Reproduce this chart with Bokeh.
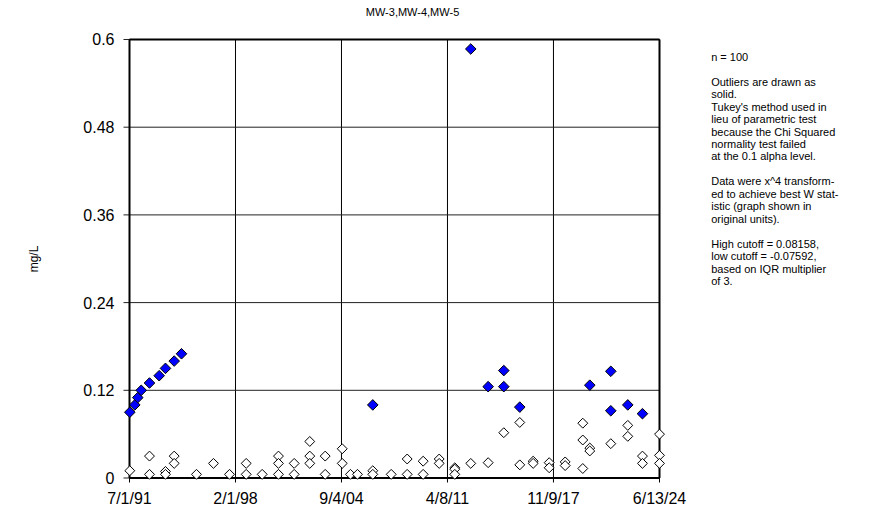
import math
import pandas as pd
from bokeh.plotting import figure
from bokeh.layouts import column, row
from bokeh.models import Range1d, FixedTicker
from bokeh.core.properties import value
from bokeh.embed import file_html
from bokeh.resources import INLINE

# ---------------- data ----------------
title_text = "MW-3,MW-4,MW-5"
y_label = "mg/L"
x_tick_dates = ["1991-07-01", "1998-02-01", "2004-09-04", "2011-04-08", "2017-11-09", "2024-06-13"]
x_tick_labels = ["7/1/91", "2/1/98", "9/4/04", "4/8/11", "11/9/17", "6/13/24"]
y_ticks = [0, 0.12, 0.24, 0.36, 0.48, 0.6]
y_tick_labels = ["0", "0.12", "0.24", "0.36", "0.48", "0.6"]

open_dates = [
    "1991-07-08", "1992-09-27", "1992-09-27", "1993-09-25", "1993-09-25",
    "1994-04-11", "1994-04-11", "1995-08-30", "1996-09-19", "1997-09-18",
    "1998-10-02", "1998-10-02", "1999-09-30", "2000-10-04", "2000-10-04",
    "2000-10-04", "2001-09-26", "2001-09-26", "2002-09-15", "2002-09-15",
    "2002-09-15", "2003-08-31", "2003-08-31", "2004-09-21", "2004-09-21",
    "2005-03-27", "2005-09-02", "2006-08-16", "2006-08-16", "2007-10-08",
    "2008-10-05", "2008-10-05", "2009-10-03", "2009-10-03", "2010-10-02",
    "2010-10-02", "2011-09-21", "2011-09-21", "2011-09-21", "2012-09-18",
    "2013-10-18", "2014-10-08", "2015-10-06", "2015-10-06", "2016-08-05",
    "2016-08-05", "2017-08-04", "2017-08-04", "2018-08-02", "2018-08-02",
    "2019-09-06", "2019-09-06", "2019-09-06", "2020-02-12", "2020-02-12",
    "2021-06-03", "2022-06-24", "2022-06-24", "2023-05-23", "2023-05-23",
    "2024-06-13", "2024-06-13", "2024-06-13",
]
open_values = [
    0.010, 0.030, 0.005, 0.009, 0.005,
    0.030, 0.020, 0.005, 0.020, 0.005,
    0.020, 0.005, 0.005, 0.030, 0.020,
    0.005, 0.020, 0.005, 0.050, 0.030,
    0.020, 0.030, 0.005, 0.040, 0.020,
    0.005, 0.005, 0.010, 0.005, 0.005,
    0.026, 0.005, 0.023, 0.005, 0.026,
    0.020, 0.014, 0.012, 0.005, 0.020,
    0.021, 0.062, 0.076, 0.018, 0.023,
    0.020, 0.021, 0.014, 0.022, 0.017,
    0.075, 0.052, 0.013, 0.041, 0.037,
    0.047, 0.072, 0.057, 0.030, 0.020,
    0.060, 0.031, 0.020,
]

outlier_dates = [
    "1991-07-08", "1991-10-29", "1992-01-05", "1992-03-23", "1992-09-27",
    "1993-05-05", "1993-09-25", "1994-04-11", "1994-09-24", "2006-08-16",
    "2012-09-18", "2013-10-18", "2014-10-08", "2014-10-08", "2015-10-06",
    "2020-02-12", "2021-06-03", "2021-06-03", "2022-06-24", "2023-05-23",
]
outlier_values = [
    0.090, 0.100, 0.110, 0.120, 0.130,
    0.140, 0.150, 0.160, 0.170, 0.100,
    0.587, 0.125, 0.147, 0.125, 0.097,
    0.127, 0.146, 0.092, 0.100, 0.088,
]

note_lines = [
    "n = 100", "",
    "Outliers are drawn as", "solid.",
    "Tukey's method used in", "lieu of parametric test",
    "because the Chi Squared", "normality test failed",
    "at the 0.1 alpha level.", "",
    "Data were x^4 transform-", "ed to achieve best W stat-",
    "istic (graph shown in", "original units).", "",
    "High cutoff = 0.08158,", "low cutoff = -0.07592,",
    "based on IQR multiplier", "of 3.",
]

# ---------------- layout (page pixels) ----------------
FONT = "Liberation Sans"
TOTAL_W, TOTAL_H = 871, 509
TH = 22                       # height of the title strip
PW = 690                      # width of main plot
F_L, F_R, F_T, F_B = 121, 667, 35, 483        # frame edges (page)
X0PX, X1PX = 129.0, 659.0                      # first / last x tick (page)
Y0PX, Y1PX = 478.5, 39.0                       # y=0 / y=0.6 (page)
MAIN_H = TOTAL_H - TH
NOTE_X, NOTE_Y, NOTE_DY = 710.7, 45.0, 13.6


def ms(d):
    return pd.Timestamp(d).value / 1e6


x_ticks = [ms(d) for d in x_tick_dates]
t0, t1 = x_ticks[0], x_ticks[-1]
mspp = (t1 - t0) / (X1PX - X0PX)
ypp = (y_ticks[-1] - y_ticks[0]) / (Y0PX - Y1PX)


def xd(px):
    return t0 + (px - X0PX) * mspp


def yd(py):
    return y_ticks[0] + (Y0PX - py) * ypp


def blank(w, h):
    f = figure(width=w, height=h, x_range=Range1d(0, w), y_range=Range1d(h, 0),
               output_backend="svg", toolbar_location=None,
               x_axis_location=None, y_axis_location=None, min_border=0)
    f.outline_line_color = None
    f.grid.visible = False
    f.background_fill_color = "white"
    f.border_fill_color = "white"
    return f


# ---- title strip ----
pt = blank(TOTAL_W, TH)
pt.text(x=[412], y=[11], text=[title_text], text_align="center", text_baseline="middle",
        text_font=value(FONT), text_font_size="11px", text_color="black")

# ---- main plot ----
p = figure(width=PW, height=MAIN_H, x_axis_type="datetime",
           x_range=Range1d(xd(F_L), xd(F_R)), y_range=Range1d(yd(F_B), yd(F_T)),
           output_backend="svg", toolbar_location=None,
           min_border_left=F_L, min_border_right=PW - F_R,
           min_border_top=F_T - TH, min_border_bottom=TOTAL_H - F_B)
p.outline_line_color = None
p.grid.visible = False
p.background_fill_color = "white"
p.border_fill_color = "white"

nx, ny = len(x_ticks), len(y_ticks)
p.segment(x0=x_ticks, y0=[yd(Y0PX + 5)] * nx, x1=x_ticks, y1=[y_ticks[-1]] * nx,
          line_color="black", line_width=1)
p.segment(x0=[xd(X0PX - 6)] * ny, y0=y_ticks, x1=[t1] * ny, y1=y_ticks,
          line_color="#222222", line_width=1)
p.segment(x0=[t0, t0, t0, t1], y0=[y_ticks[0], y_ticks[0], y_ticks[-1], y_ticks[0]],
          x1=[t1, t0, t1, t1], y1=[y_ticks[0], y_ticks[-1], y_ticks[-1], y_ticks[-1]],
          line_color="black", line_width=2)

open_ms = [ms(d) for d in open_dates]
out_ms = [ms(d) for d in outlier_dates]
p.scatter(x=open_ms, y=open_values, marker="square", angle=math.pi / 4, size=7,
          fill_color="white", line_color="black", line_width=1)
p.scatter(x=out_ms, y=outlier_values, marker="square", angle=math.pi / 4, size=7.5,
          fill_color="#0000FF", line_color="black", line_width=1)

xa = p.xaxis[0]
xa.ticker = FixedTicker(ticks=x_ticks)
xa.major_label_overrides = dict(zip(x_ticks, x_tick_labels))
ya = p.yaxis[0]
ya.ticker = FixedTicker(ticks=y_ticks)
ya.major_label_overrides = dict(zip(y_ticks, y_tick_labels))
for ax in (xa, ya):
    ax.axis_line_color = None
    ax.major_tick_line_color = None
    ax.minor_tick_line_color = None
    ax.major_tick_out = 0
    ax.major_tick_in = 0
    ax.major_label_text_font = FONT
    ax.major_label_text_font_size = "16px"
    ax.major_label_text_color = "black"
xa.major_label_standoff = 7
ya.major_label_standoff = 7
ya.axis_label = y_label
ya.axis_label_text_font = FONT
ya.axis_label_text_font_size = "12px"
ya.axis_label_text_font_style = "normal"
ya.axis_label_text_color = "black"
ya.axis_label_standoff = 39

# ---- notes panel ----
pn = blank(TOTAL_W - PW, MAIN_H)
ys = [NOTE_Y - TH + i * NOTE_DY for i in range(len(note_lines))]
pn.text(x=[NOTE_X - PW] * len(note_lines), y=ys, text=note_lines, text_align="left",
        text_baseline="middle", text_font=value(FONT), text_font_size="11px",
        text_color="black")

layout = column(pt, row(p, pn, spacing=0), spacing=0)
open("out.html", "w").write(file_html(layout, INLINE))
